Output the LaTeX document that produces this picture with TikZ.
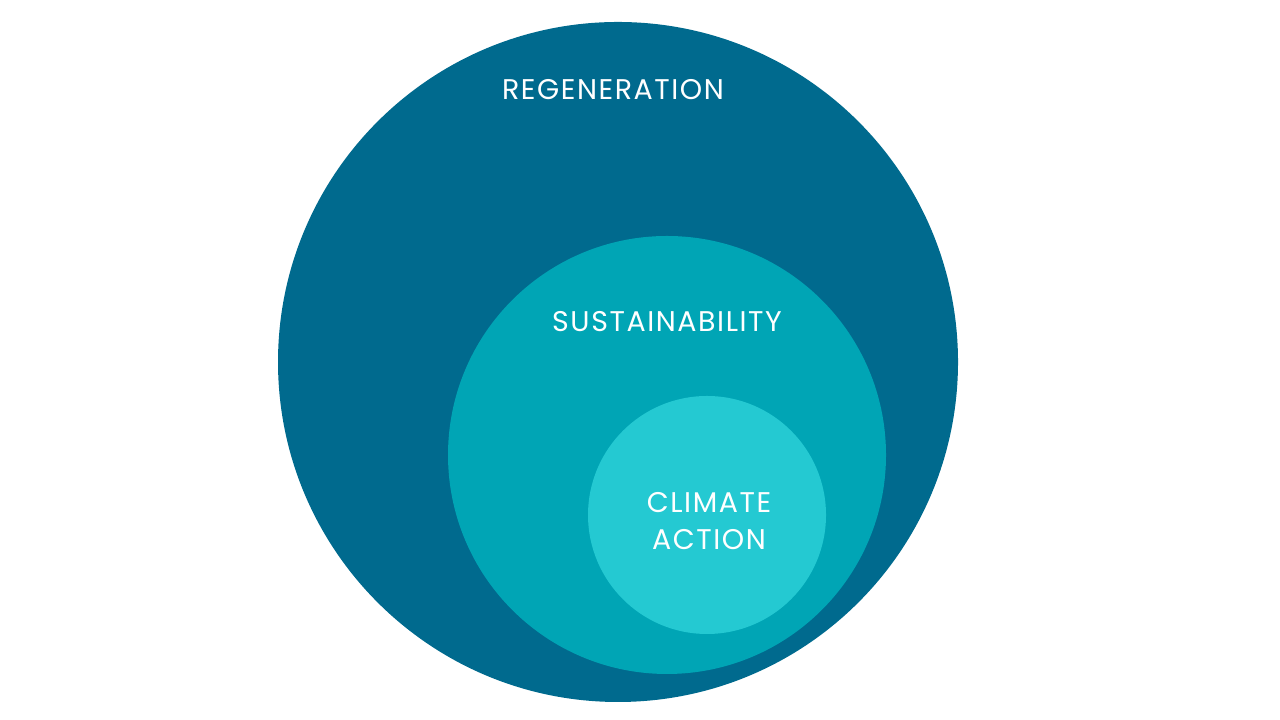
\documentclass[tikz,border=0pt]{standalone}
\usepackage{fontspec}
\setmainfont{Poppins}
\newfontfamily\circfont[LetterSpace=5.5]{Poppins}
\usepackage{xcolor}
\usepackage{tikz}
\usetikzlibrary{positioning}

\definecolor{regen}{HTML}{006A8E}
\definecolor{sustain}{HTML}{00A5B5}
\definecolor{climate}{HTML}{24C9D2}

\begin{document}
\begin{tikzpicture}[
      ring/.style={circle, draw=none, inner sep=0pt},
      lbl/.style={text=white, font=\circfont\fontsize{8.1}{10.5}\selectfont, align=center, inner sep=0pt}
    ]
      \useasboundingbox (0,0) rectangle (12.8,7.2);
      \node[ring, fill=regen, minimum size=6.8cm] (outer) at (6.18,3.58) {};
      \node[ring, fill=sustain, minimum size=4.38cm] (middle) at (6.67,2.65) {};
      \node[ring, fill=climate, minimum size=2.38cm] (inner) at (7.07,2.05) {};
      \node[lbl] (regtxt) at (6.13,6.30) {REGENERATION};
      \node[lbl] (sustxt) at (6.67,3.98) {SUSTAINABILITY};
      \node[lbl] (clitxt) at (7.09,1.99) {CLIMATE\\ACTION};
    \end{tikzpicture}
\end{document}
